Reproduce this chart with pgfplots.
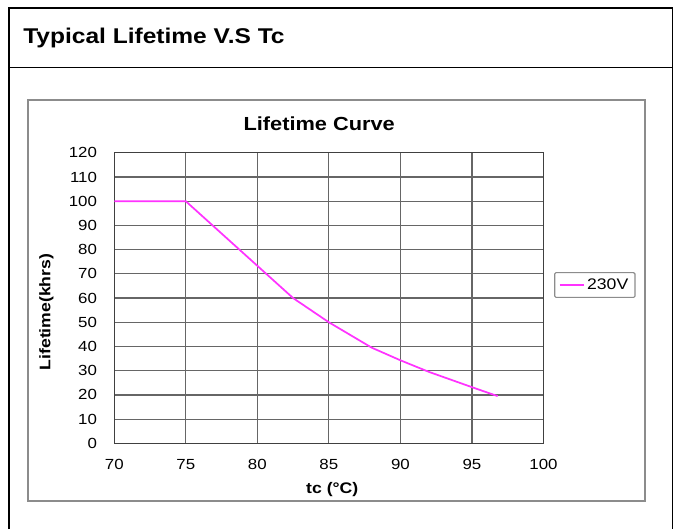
\documentclass[border=0pt]{standalone}
\usepackage{fontspec}
\setmainfont{Liberation Sans}[FakeStretch=1.15]
\usepackage{pgfplots}
\pgfplotsset{compat=1.18}

\definecolor{curve}{HTML}{FF33FF}
\definecolor{gridc}{HTML}{666666}

\begin{document}
\begin{tikzpicture}
% frames, in pixel units of the reference (y grows downward)
\begin{scope}[x=0.75pt, y=-0.75pt]
  \useasboundingbox (0,0) rectangle (674,529);
  \draw[black, line width=1.1pt] (9,529) -- (9,8) -- (672.5,8) -- (672.5,529);
  \draw[black, line width=1.1pt] (9,67.5) -- (672.5,67.5);
  \node[anchor=base west, inner sep=0pt, font=\bfseries\fontsize{16}{19}\selectfont]
    at (23,43) {Typical Lifetime V.S Tc};
  \draw[black!45, line width=1.2pt] (28,100) rectangle (645,501);
\end{scope}

\begin{axis}[
    at={(85.7pt,-332.5pt)}, anchor=south west,
    scale only axis,
    width=321.9pt, height=217.9pt,
    xmin=70, xmax=100, ymin=0, ymax=120,
    xtick={70,75,...,100},
    ytick={0,10,...,120},
    grid=major,
    major grid style={gridc, line width=0.9pt},
    major tick length=0pt,
    axis line style={black!75, line width=0.9pt},
    /pgf/number format/assume math mode=true,
    ticklabel style={font=\fontsize{11}{13}\selectfont},
    yticklabel style={anchor=east, inner sep=0pt, xshift=-12.75pt},
    xticklabel style={anchor=north, inner sep=0pt, yshift=-12pt},
    title={Lifetime Curve},
    title style={at={(axis description cs:0.4775,1)}, anchor=base, yshift=11pt,
                 font=\bfseries\fontsize{14.2}{17}\selectfont},
    xlabel={tc (°C)},
    xlabel style={at={(axis description cs:0.508,0)}, anchor=base, yshift=-37.3pt,
                  font=\bfseries\fontsize{11.5}{14}\selectfont},
    ylabel={Lifetime(khrs)},
    ylabel style={at={(axis description cs:-0.158,0.452)}, anchor=center,
                  font=\bfseries\fontsize{11.5}{14}\selectfont},
    legend style={at={(axis description cs:1.025,0.545)}, anchor=west,
                  draw=black!45, rounded corners=1pt, line width=0.8pt,
                  inner xsep=3pt, inner ysep=2.5pt,
                  font=\fontsize{11.5}{13}\selectfont},
    legend image code/.code={\draw[#1] (0pt,0pt) -- (18pt,0pt);},
]
\addplot[curve, line width=1.3pt] coordinates {
    (70,100) (75,100) (82.5,60) (85,50) (88,39.5) (90,34.3)
    (92,29.5) (95,23.2) (96.8,19.5)
};
\addlegendentry{230V}
\end{axis}
\end{tikzpicture}
\end{document}
